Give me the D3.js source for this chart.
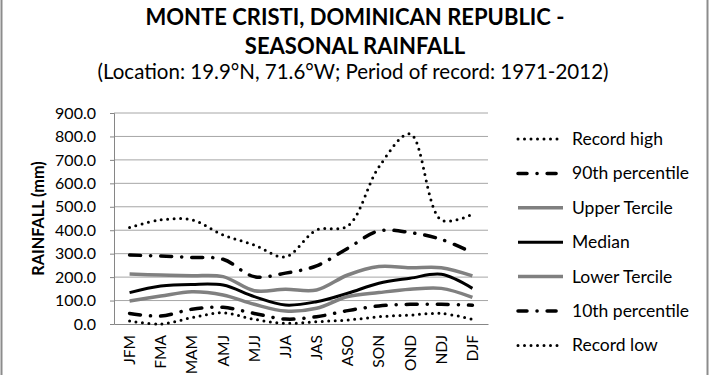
<!DOCTYPE html>
<html><head><meta charset="utf-8">
<script src="https://cdn.jsdelivr.net/npm/d3@7/dist/d3.min.js"></script>
<style>body{margin:0;background:#fff}svg{display:block}text{font-family:Lato,"Open Sans",sans-serif}</style>
</head><body><svg id="c" width="710" height="375"></svg>
<script>
const seasons = ["JFM","FMA","MAM","AMJ","MJJ","JJA","JAS","ASO","SON","OND","NDJ","DJF"];
const recordHigh = [412,444,444,380,337,287,401,418,670,811,444,468];
const p90 = [294,290,284,276,202,217,248,323,397,390,361,304];
const upperTercile = [213,209,206,202,142,148,145,209,245,240,240,205];
const median = [134,162,169,166,117,81,95,131,174,195,212,152];
const lowerTercile = [98,119,138,124,84,55,67,117,134,148,152,114];
const p10 = [45,34,63,71,45,21,31,57,77,84,84,80];
const recordLow = [13,0,27,48,20,3,10,17,31,38,45,20];
const yTicks = [0,100,200,300,400,500,600,700,800,900];

const series = [
  {name:"Record high", values:recordHigh, color:"#000", width:3, dash:"0,6.5", cap:"round"},
  {name:"90th percentile", values:p90, color:"#000", width:3.5, dash:"11,10,0.1,10", cap:"round"},
  {name:"Upper Tercile", values:upperTercile, color:"#808080", width:3.5, dash:null, cap:"butt"},
  {name:"Median", values:median, color:"#000", width:3, dash:null, cap:"butt"},
  {name:"Lower Tercile", values:lowerTercile, color:"#808080", width:3.5, dash:null, cap:"butt"},
  {name:"10th percentile", values:p10, color:"#000", width:3.5, dash:"11,10,0.1,10", cap:"round"},
  {name:"Record low", values:recordLow, color:"#000", width:3, dash:"0,6.5", cap:"round"}
];

const svg = d3.select("#c");
svg.append("rect").attr("x",1.5).attr("y",-2).attr("width",706).attr("height",380)
  .attr("fill","none").attr("stroke","#8c8c8c").attr("stroke-width",2);

const L=114, R=488, T=113, B=324;
const x = d3.scalePoint().domain(seasons).range([L,R]).padding(0.5);
const y = d3.scaleLinear().domain([0,900]).range([B,T]);

svg.append("g").selectAll("line").data(yTicks.filter(d=>d>0)).join("line")
  .attr("x1",L).attr("x2",R).attr("y1",d=>y(d)).attr("y2",d=>y(d))
  .attr("stroke","#a6a6a6").attr("stroke-width",1);

const ya = svg.append("g").attr("transform",`translate(${L},0)`)
  .call(d3.axisLeft(y).tickValues(yTicks).tickFormat(d3.format(".1f")).tickSize(4).tickPadding(14));
ya.select(".domain").attr("stroke","#868686");
ya.selectAll(".tick line").attr("stroke","#868686");
ya.selectAll("text").attr("font-size",16).attr("fill","#000").attr("font-family","Lato");

const xa = svg.append("g").attr("transform",`translate(0,${B})`)
  .call(d3.axisBottom(x).tickSize(0).tickPadding(0));
xa.select(".domain").attr("stroke","#868686");
xa.selectAll("text").attr("font-size",15.5).attr("fill","#000").attr("font-family","Lato")
  .attr("text-anchor","end").attr("dy",null)
  .attr("transform","translate(5,11) rotate(-90)");

const line = d3.line().x((d,i)=>x(seasons[i])).y(d=>y(d)).curve(d3.curveCatmullRom.alpha(0.5));
svg.append("g").selectAll("path").data(series).join("path")
  .attr("d",d=>line(d.values)).attr("fill","none")
  .attr("stroke",d=>d.color).attr("stroke-width",d=>d.width)
  .attr("stroke-dasharray",d=>d.dash).attr("stroke-linecap",d=>d.cap);

const lg = svg.append("g");
series.forEach((s,i)=>{
  const yy = 139 + i*34.4;
  lg.append("line").attr("x1",518).attr("x2",563).attr("y1",yy).attr("y2",yy)
    .attr("stroke",s.color).attr("stroke-width",s.width)
    .attr("stroke-dasharray",s.dash ? (s.dash.startsWith("0")? "0,6.5" : "9,10,0.1,10") : null)
    .attr("stroke-linecap",s.cap);
  lg.append("text").attr("x",572).attr("y",yy+6).attr("font-size",17.5).attr("fill","#000").text(s.name);
});

svg.append("text").attr("x",355).attr("y",25).attr("text-anchor","middle").attr("font-size",22)
  .attr("font-weight","bold").text("MONTE CRISTI, DOMINICAN REPUBLIC -");
svg.append("text").attr("x",355).attr("y",54).attr("text-anchor","middle").attr("font-size",22)
  .attr("font-weight","bold").text("SEASONAL RAINFALL");
svg.append("text").attr("x",353).attr("y",79).attr("text-anchor","middle").attr("font-size",20.5)
  .text("(Location: 19.9°N, 71.6°W; Period of record: 1971-2012)");
svg.append("text").attr("transform","translate(44,218.5) rotate(-90)").attr("text-anchor","middle")
  .attr("font-size",16.2).attr("font-weight","bold").text("RAINFALL (mm)");
</script></body></html>
